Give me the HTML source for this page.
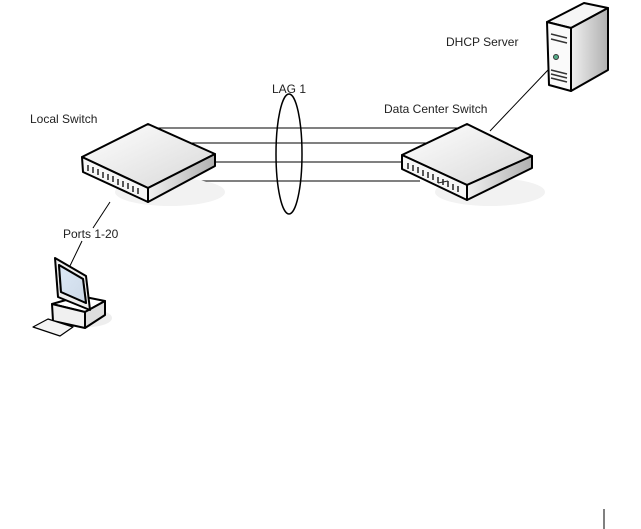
<!DOCTYPE html>
<html><head><meta charset="utf-8"><style>
html,body{margin:0;padding:0;background:#fff;width:641px;height:529px;overflow:hidden}
text{font-family:"Liberation Sans",sans-serif;font-size:12px;fill:#222}
</style></head><body>
<svg width="641" height="529" viewBox="0 0 641 529" xmlns="http://www.w3.org/2000/svg">
<defs>
<linearGradient id="g1" x1="0" y1="0" x2="1" y2="1"><stop offset="0" stop-color="#fff"/><stop offset="1" stop-color="#d8d8d8"/></linearGradient>
<linearGradient id="g2" x1="0" y1="0" x2="1" y2="0"><stop offset="0" stop-color="#f0f0f0"/><stop offset="1" stop-color="#b0b0b0"/></linearGradient>
<linearGradient id="g3" x1="0" y1="0" x2="1" y2="1"><stop offset="0" stop-color="#fff"/><stop offset="1" stop-color="#c8c8c8"/></linearGradient>
</defs>
<g stroke="#000" stroke-width="1">
<line x1="150" y1="128" x2="462" y2="128"/>
<line x1="190" y1="143" x2="435" y2="143"/>
<line x1="214" y1="162" x2="403" y2="162"/>
<line x1="195" y1="181" x2="420" y2="181"/>
<line x1="110" y1="202" x2="93" y2="228"/>
<line x1="82" y1="241" x2="68" y2="270"/>
<line x1="490" y1="131" x2="548" y2="70"/>
<line x1="604" y1="509" x2="604" y2="529"/>
</g>
<ellipse cx="289" cy="154" rx="13" ry="60" fill="none" stroke="#000" stroke-width="1.5"/>
<!-- Local switch -->
<ellipse cx="170" cy="192" rx="55" ry="14" fill="#f2f2f2"/>
<g stroke="#000" stroke-width="2" stroke-linejoin="round">
<polygon points="148,124 215,154 148,188 82,157" fill="url(#g1)"/>
<polygon points="82,157 148,188 148,202 83,172" fill="#f6f6f6"/>
<polygon points="148,188 215,154 215,166 148,202" fill="url(#g2)"/>
</g>
<g stroke="#222" stroke-width="1.5">
<line x1="88" y1="165" x2="88" y2="171"/><line x1="93" y1="167" x2="93" y2="173"/><line x1="98" y1="169" x2="98" y2="175"/><line x1="103" y1="172" x2="103" y2="178"/><line x1="108" y1="174" x2="108" y2="180"/><line x1="113" y1="176" x2="113" y2="182"/><line x1="118" y1="179" x2="118" y2="185"/><line x1="123" y1="181" x2="123" y2="187"/><line x1="128" y1="183" x2="128" y2="189"/><line x1="133" y1="186" x2="133" y2="192"/><line x1="138" y1="188" x2="138" y2="194"/>
</g>
<!-- DC switch -->
<ellipse cx="490" cy="192" rx="55" ry="14" fill="#f2f2f2"/>
<g stroke="#000" stroke-width="2" stroke-linejoin="round">
<polygon points="467,124 532,156 467,185 402,155" fill="url(#g1)"/>
<polygon points="402,155 467,185 467,200 402,169" fill="#f6f6f6"/>
<polygon points="467,185 532,156 532,168 467,200" fill="url(#g2)"/>
</g>
<g stroke="#222" stroke-width="1.5">
<line x1="408" y1="163" x2="408" y2="169"/><line x1="413" y1="165" x2="413" y2="171"/><line x1="418" y1="167" x2="418" y2="173"/><line x1="423" y1="170" x2="423" y2="176"/><line x1="428" y1="172" x2="428" y2="178"/><line x1="433" y1="174" x2="433" y2="180"/><line x1="438" y1="177" x2="438" y2="183"/><line x1="443" y1="179" x2="443" y2="185"/><line x1="448" y1="181" x2="448" y2="187"/><line x1="453" y1="184" x2="453" y2="190"/><line x1="458" y1="186" x2="458" y2="192"/>
</g>
<line x1="438" y1="183" x2="448" y2="181" stroke="#222"/>
<!-- Server -->
<g stroke="#000" stroke-width="2" stroke-linejoin="round">
<polygon points="547,22 584,3 608,8 571,28" fill="#f6f6f6"/>
<polygon points="571,28 608,8 608,70 571,91" fill="url(#g2)"/>
<polygon points="547,22 571,28 571,91 549,85" fill="#fafafa"/>
</g>
<g stroke="#333" stroke-width="1.5">
<line x1="551" y1="34" x2="567" y2="38"/><line x1="551" y1="39" x2="567" y2="43"/>
<line x1="551" y1="70" x2="567" y2="74"/><line x1="551" y1="74" x2="567" y2="78"/><line x1="551" y1="78" x2="567" y2="82"/>
</g>
<circle cx="556" cy="57" r="2.5" fill="#5a8" stroke="#333"/>
<!-- Computer -->
<ellipse cx="88" cy="318" rx="24" ry="9" fill="#eee"/>
<g stroke="#000" stroke-width="2" stroke-linejoin="round">
<polygon points="52,304 80,296 105,301 85,312" fill="#fff"/>
<polygon points="52,304 85,312 85,328 53,321" fill="#f0f0f0"/>
<polygon points="85,312 105,301 105,315 85,328" fill="#ddd"/>
<polygon points="55,258 86,276 90,310 58,297" fill="#eee"/>
<polygon points="59,265 83,279 86,303 61,292" fill="url(#g3)"/>
<polygon points="59,265 83,279 86,303 61,292" fill="#cfe0f4" opacity="0.7"/>
<polygon points="33,327 48,319 73,327 60,336" fill="#f4f4f4" stroke-width="1.2"/>
</g>
<text x="30" y="123">Local Switch</text>
<text x="272" y="93">LAG 1</text>
<text x="384" y="113">Data Center Switch</text>
<text x="446" y="46">DHCP Server</text>
<text x="63" y="238">Ports 1-20</text>
</svg>
</body></html>
